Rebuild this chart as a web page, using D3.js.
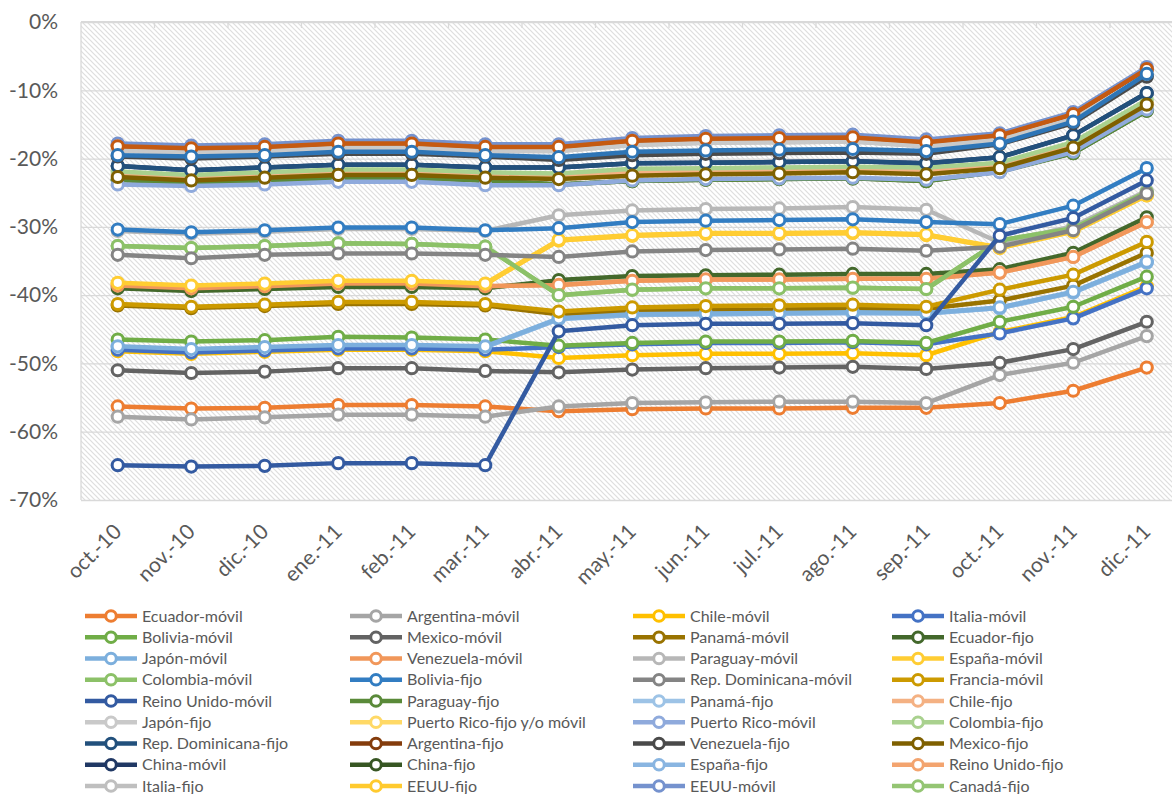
<!DOCTYPE html>
<html><head><meta charset="utf-8">
<script src="https://cdn.jsdelivr.net/npm/d3@7"></script>
<style>
body{margin:0;background:#fff;}
svg text{font-family:Lato,"Open Sans",sans-serif;fill:#595959;}
</style></head><body>
<svg id="chart" width="1172" height="794"></svg>
<script>
const categories = ["oct.-10","nov.-10","dic.-10","ene.-11","feb.-11","mar.-11","abr.-11","may.-11","jun.-11","jul.-11","ago.-11","sep.-11","oct.-11","nov.-11","dic.-11"];
const yTicks = [0,-10,-20,-30,-40,-50,-60,-70];

// values in %
const ecuadorMovil     = [-56.3,-56.6,-56.5,-56.1,-56.1,-56.3,-57.0,-56.7,-56.6,-56.6,-56.5,-56.5,-55.8,-54.0,-50.6];
const argentinaMovil   = [-57.8,-58.2,-57.9,-57.5,-57.5,-57.8,-56.3,-55.8,-55.7,-55.6,-55.6,-55.8,-51.7,-49.9,-46.0];
const chileMovil       = [-48.2,-48.6,-48.3,-48.0,-48.0,-48.2,-49.2,-48.8,-48.6,-48.6,-48.5,-48.8,-45.4,-43.2,-38.7];
const italiaMovil      = [-48.0,-48.4,-48.1,-47.8,-47.8,-48.0,-47.6,-47.2,-47.0,-47.0,-46.9,-47.2,-45.6,-43.4,-39.0];
const boliviaMovil     = [-46.5,-46.8,-46.6,-46.1,-46.2,-46.5,-47.4,-47.0,-46.8,-46.8,-46.7,-47.0,-43.9,-41.7,-37.3];
const mexicoMovil      = [-51.0,-51.4,-51.2,-50.7,-50.7,-51.1,-51.3,-50.9,-50.7,-50.6,-50.5,-50.8,-49.9,-47.9,-43.9];
const panamaMovil      = [-41.5,-41.9,-41.6,-41.3,-41.3,-41.5,-42.8,-42.3,-42.2,-42.1,-42.0,-42.0,-40.8,-38.6,-33.8];
const ecuadorFijo      = [-39.0,-39.4,-39.1,-38.8,-38.8,-39.0,-37.8,-37.2,-37.1,-37.0,-36.9,-36.9,-36.2,-33.8,-28.6];
const japonMovil       = [-47.5,-47.9,-47.6,-47.3,-47.3,-47.5,-43.4,-42.8,-42.7,-42.6,-42.5,-42.6,-41.8,-39.5,-35.1];
const venezuelaMovil   = [-38.6,-39.0,-38.7,-38.3,-38.3,-38.7,-38.5,-37.9,-37.7,-37.7,-37.6,-37.6,-36.7,-34.4,-29.3];
const paraguayMovil    = [-30.6,-31.0,-30.7,-30.3,-30.3,-30.6,-28.3,-27.6,-27.4,-27.3,-27.1,-27.5,-32.3,-29.9,-24.7];
const espanaMovil      = [-38.2,-38.6,-38.3,-37.9,-37.9,-38.3,-31.9,-31.2,-30.9,-30.9,-30.8,-31.1,-33.0,-30.6,-25.3];
const colombiaMovil    = [-32.8,-33.1,-32.8,-32.4,-32.5,-32.9,-40.0,-39.2,-39.0,-39.0,-38.9,-39.1,-32.0,-30.2,-24.9];
const boliviaFijo      = [-30.4,-30.8,-30.5,-30.1,-30.1,-30.5,-30.2,-29.3,-29.1,-29.0,-28.9,-29.3,-29.6,-26.9,-21.4];
const repDomMovil      = [-34.1,-34.6,-34.1,-33.9,-33.9,-34.1,-34.4,-33.6,-33.4,-33.3,-33.2,-33.5,-32.9,-30.5,-25.1];
const franciaMovil     = [-41.3,-41.7,-41.4,-41.0,-41.0,-41.3,-42.4,-41.8,-41.6,-41.5,-41.4,-41.7,-39.2,-37.0,-32.2];
const reinoUnidoMovil  = [-64.9,-65.1,-65.0,-64.6,-64.6,-64.9,-45.3,-44.4,-44.2,-44.2,-44.1,-44.4,-31.3,-28.7,-23.2];
const paraguayFijo     = [-23.1,-23.5,-23.2,-22.8,-22.8,-23.2,-23.8,-23.3,-23.1,-23.0,-22.9,-23.3,-21.9,-19.2,-13.0];
const panamaFijo       = [-47.6,-48.0,-47.7,-47.4,-47.4,-47.6,-43.5,-42.9,-42.8,-42.7,-42.6,-42.7,-41.9,-39.6,-35.2];
const chileFijo        = [-22.3,-22.7,-22.4,-22.0,-22.0,-22.4,-22.6,-22.0,-21.8,-21.7,-21.6,-21.8,-21.0,-18.0,-11.8];
const japonFijo        = [-18.8,-19.1,-18.9,-18.4,-18.4,-18.9,-18.9,-18.0,-17.7,-17.6,-17.5,-18.2,-17.2,-14.2,-7.9];
const prFijoMovil      = [-38.3,-38.7,-38.4,-38.0,-38.0,-38.4,-32.0,-31.3,-31.0,-31.0,-30.9,-31.2,-33.1,-30.7,-25.4];
const prMovil          = [-23.8,-24.0,-23.8,-23.4,-23.4,-23.9,-23.9,-23.2,-23.0,-22.9,-22.8,-23.1,-22.0,-19.0,-12.8];
const colombiaFijo     = [-21.9,-22.4,-22.0,-21.6,-21.6,-22.0,-22.2,-21.5,-21.4,-21.3,-21.2,-21.3,-20.6,-17.6,-11.4];
const repDomFijo       = [-21.1,-21.7,-21.3,-20.9,-20.9,-21.3,-21.3,-20.7,-20.6,-20.5,-20.4,-20.7,-19.8,-16.6,-10.4];
const argentinaFijo    = [-18.2,-18.5,-18.3,-17.8,-17.8,-18.3,-18.3,-17.4,-17.1,-17.0,-16.9,-17.6,-16.6,-13.5,-6.9];
const venezuelaFijo    = [-19.7,-20.0,-19.7,-19.3,-19.3,-19.7,-20.2,-19.5,-19.3,-19.2,-19.1,-19.3,-17.9,-14.8,-8.0];
const mexicoFijo       = [-22.7,-23.2,-22.8,-22.4,-22.4,-22.8,-23.0,-22.5,-22.3,-22.2,-22.0,-22.3,-21.4,-18.4,-12.1];
const chinaMovil       = [-21.1,-21.7,-21.3,-20.9,-20.9,-21.3,-21.3,-20.7,-20.6,-20.5,-20.4,-20.7,-19.8,-16.6,-10.4];
const chinaFijo        = [-23.1,-23.5,-23.2,-22.8,-22.8,-23.2,-23.8,-23.3,-23.1,-23.0,-22.9,-23.3,-21.9,-19.2,-13.0];
const espanaFijo       = [-47.6,-48.0,-47.7,-47.4,-47.4,-47.6,-43.5,-42.9,-42.8,-42.7,-42.6,-42.7,-41.9,-39.6,-35.2];
const reinoUnidoFijo   = [-38.6,-39.0,-38.7,-38.3,-38.3,-38.7,-38.5,-37.9,-37.7,-37.7,-37.6,-37.6,-36.7,-34.4,-29.3];
const italiaFijo       = [-18.8,-19.1,-18.9,-18.4,-18.4,-18.9,-18.9,-18.0,-17.7,-17.6,-17.5,-18.2,-17.2,-14.2,-7.9];
const eeuuFijo         = [-38.3,-38.7,-38.4,-38.0,-38.0,-38.4,-32.0,-31.3,-31.0,-31.0,-30.9,-31.2,-33.1,-30.7,-25.4];
const eeuuMovil        = [-17.8,-18.1,-17.9,-17.4,-17.4,-17.9,-17.9,-17.0,-16.7,-16.6,-16.5,-17.2,-16.3,-13.2,-6.6];
const canadaFijo       = [-32.8,-33.1,-32.8,-32.4,-32.5,-32.9,-40.0,-39.2,-39.0,-39.0,-38.9,-39.1,-32.0,-30.2,-24.9];
// series plotted without legend entry
const sinLeyendaA      = [-18.2,-18.5,-18.3,-17.8,-17.8,-18.3,-18.3,-17.4,-17.1,-17.0,-16.9,-17.6,-16.6,-13.5,-6.9];
const sinLeyendaB      = [-19.5,-19.7,-19.5,-19.0,-19.0,-19.5,-19.8,-19.0,-18.8,-18.7,-18.6,-18.9,-17.8,-14.6,-7.6];

const seriesNames = ["Ecuador-móvil","Argentina-móvil","Chile-móvil","Italia-móvil","Bolivia-móvil","Mexico-móvil","Panamá-móvil","Ecuador-fijo","Japón-móvil","Venezuela-móvil","Paraguay-móvil","España-móvil","Colombia-móvil","Bolivia-fijo","Rep. Dominicana-móvil","Francia-móvil","Reino Unido-móvil","Paraguay-fijo","Panamá-fijo","Chile-fijo","Japón-fijo","Puerto Rico-fijo y/o móvil","Puerto Rico-móvil","Colombia-fijo","Rep. Dominicana-fijo","Argentina-fijo","Venezuela-fijo","Mexico-fijo","China-móvil","China-fijo","España-fijo","Reino Unido-fijo","Italia-fijo","EEUU-fijo","EEUU-móvil","Canadá-fijo"];
const seriesValues = [ecuadorMovil,argentinaMovil,chileMovil,italiaMovil,boliviaMovil,mexicoMovil,panamaMovil,ecuadorFijo,japonMovil,venezuelaMovil,paraguayMovil,espanaMovil,colombiaMovil,boliviaFijo,repDomMovil,franciaMovil,reinoUnidoMovil,paraguayFijo,panamaFijo,chileFijo,japonFijo,prFijoMovil,prMovil,colombiaFijo,repDomFijo,argentinaFijo,venezuelaFijo,mexicoFijo,chinaMovil,chinaFijo,espanaFijo,reinoUnidoFijo,italiaFijo,eeuuFijo,eeuuMovil,canadaFijo];
const extraNames = ["sin-leyenda-A","sin-leyenda-B"];
const extraValues = [sinLeyendaA, sinLeyendaB];

// styles
const seriesColors = ["#ED7D31","#A5A5A5","#FFC000","#4472C4","#70AD47","#636363","#997300","#43682B","#7CAFDD","#F1975A","#B7B7B7","#FFCD33","#8CC168","#327DC2","#848484","#CC9A00","#335AA1","#5A8A39","#9DC3E6","#F4B183","#C9C9C9","#FFD966","#8FAADC","#A9D18E","#22507C","#843C0C","#4A4A4A","#7F6000","#203864","#375623","#89B5E1","#F3A46F","#BFBFBF","#FFCA2E","#7592CE","#94C573"];
const extraColors = ["#C55A11","#2E75B6"];
const drawFirst = ["Panamá-fijo","España-fijo","Puerto Rico-fijo y/o móvil","EEUU-fijo","China-móvil","China-fijo","Reino Unido-fijo","Italia-fijo","Canadá-fijo","Argentina-fijo","EEUU-móvil"];

const svg = d3.select("#chart");
const W = 1172, H = 794;
const step = 73.5, plotLeft = 81, plotTop = 22, plotBottom = 500;
const x = d3.scaleBand().domain(categories).range([plotLeft, plotLeft + step*categories.length]);
const cx = c => x(c) + x.bandwidth()/2;
const y = d3.scaleLinear().domain([-70,0]).range([plotBottom, plotTop]);

const defs = svg.append("defs");
const pat = defs.append("pattern").attr("id","hatch").attr("patternUnits","userSpaceOnUse").attr("width",5).attr("height",5);
pat.append("rect").attr("width",5).attr("height",5).attr("fill","#fff");
pat.append("path").attr("d","M-1,-1 L6,6 M-1,4 L1,6 M4,-1 L6,1").attr("stroke","#dedede").attr("stroke-width",1.2);

const plotW = step*categories.length;
svg.append("rect").attr("x",plotLeft).attr("y",plotTop).attr("width",plotW).attr("height",plotBottom-plotTop).attr("fill","url(#hatch)");

// y axis + gridlines
const yAxis = d3.axisLeft(y).tickValues(yTicks).tickSize(-plotW).tickPadding(23)
  .tickFormat(d => (d === 0 ? "0" : "-" + Math.abs(d)) + "%");
const gy = svg.append("g").attr("transform",`translate(${plotLeft},0)`).call(yAxis);
gy.select(".domain").remove();
gy.selectAll(".tick line").attr("stroke","#d9d9d9").attr("stroke-width",1.3);
gy.selectAll(".tick text").style("font-size","21px").style("fill","#595959").style("font-family","Lato");

// left border
svg.append("line").attr("x1",plotLeft).attr("x2",plotLeft).attr("y1",plotTop).attr("y2",plotBottom).attr("stroke","#d9d9d9").attr("stroke-width",1.3);
// category axis line at 0% with tick marks between categories
svg.append("line").attr("x1",plotLeft).attr("x2",plotLeft+plotW).attr("y1",plotTop).attr("y2",plotTop).attr("stroke","#d9d9d9").attr("stroke-width",2);
svg.selectAll("line.ctick").data(categories).join("line").attr("class","ctick")
  .attr("x1",d=>x(d)+x.bandwidth()).attr("x2",d=>x(d)+x.bandwidth()).attr("y1",plotTop).attr("y2",plotTop+6)
  .attr("stroke","#d9d9d9").attr("stroke-width",1.3);

// category labels
svg.selectAll("text.xlab").data(categories).join("text").attr("class","xlab")
  .attr("transform",d=>`translate(${cx(d)+5},533) rotate(-45)`)
  .attr("text-anchor","end").style("font-size","21px").text(d=>d);

// series
const all = seriesNames.map((n,i)=>({name:n,values:seriesValues[i],color:seriesColors[i]}))
  .concat(extraNames.map((n,i)=>({name:n,values:extraValues[i],color:extraColors[i]})));
const order = all.filter(s=>drawFirst.includes(s.name)).sort((a,b)=>drawFirst.indexOf(a.name)-drawFirst.indexOf(b.name))
  .concat(all.filter(s=>!drawFirst.includes(s.name)));
const line = d3.line().x((d,i)=>cx(categories[i])).y(d=>y(d));
const gS = svg.append("g");
order.forEach(s=>{
  const g = gS.append("g");
  g.append("path").attr("d",line(s.values)).attr("fill","none").attr("stroke",s.color)
   .attr("stroke-width",4.5).attr("stroke-linejoin","round").attr("stroke-linecap","round");
  g.selectAll("circle").data(s.values).join("circle")
   .attr("cx",(d,i)=>cx(categories[i])).attr("cy",d=>y(d)).attr("r",5.6)
   .attr("fill","#fff").attr("stroke",s.color).attr("stroke-width",3);
});

// legend
const colX = [85, 350, 633, 892];
const legend = svg.append("g");
seriesNames.forEach((n,i)=>{
  const col = i % 4, row = Math.floor(i/4);
  const lx = colX[col], ly = 616 + row*21.25;
  const g = legend.append("g").attr("transform",`translate(${lx},${ly})`);
  g.append("line").attr("x1",0).attr("x2",52).attr("y1",0).attr("y2",0).attr("stroke",seriesColors[i]).attr("stroke-width",4.5);
  g.append("circle").attr("cx",26).attr("cy",0).attr("r",5.3).attr("fill","#fff").attr("stroke",seriesColors[i]).attr("stroke-width",3);
  g.append("text").attr("x",57).attr("y",5.5).style("font-size","16px").text(n);
});
</script>
</body></html>
